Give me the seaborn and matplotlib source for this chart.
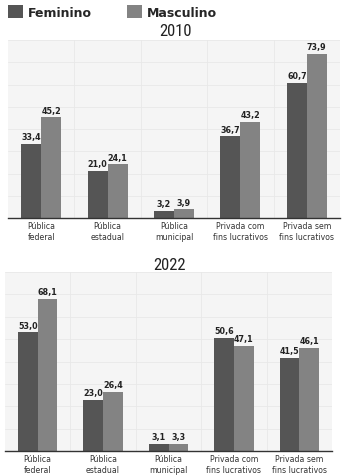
import matplotlib
matplotlib.use("Agg")
import matplotlib.pyplot as plt
import seaborn as sns
import pandas as pd
from matplotlib.patches import Patch
from matplotlib import font_manager

categories = ["Pública\nfederal", "Pública\nestadual", "Pública\nmunicipal",
              "Privada com\nfins lucrativos", "Privada sem\nfins lucrativos"]
series = ["Feminino", "Masculino"]
fem_2010 = [33.4, 21.0, 3.2, 36.7, 60.7]
mas_2010 = [45.2, 24.1, 3.9, 43.2, 73.9]
fem_2022 = [53.0, 23.0, 3.1, 50.6, 41.5]
mas_2022 = [68.1, 26.4, 3.3, 47.1, 46.1]
years = ["2010", "2022"]

colors = {"Feminino": "#555555", "Masculino": "#838383"}

def long_df(fem, mas):
    rows = []
    for c, f, m in zip(categories, fem, mas):
        rows.append((c, "Feminino", f))
        rows.append((c, "Masculino", m))
    return pd.DataFrame(rows, columns=["cat", "sexo", "valor"])

sns.set_theme(style="white")
plt.rcParams['font.family'] = ['DejaVu Sans']

names = {f.name for f in font_manager.fontManager.ttflist}
title_family = None
for cand in ["Liberation Sans Narrow", "DejaVu Sans Condensed", "Roboto Condensed", "Open Sans Condensed"]:
    if cand in names:
        title_family = cand
        break

W, H = 353, 477
fig = plt.figure(figsize=(W / 100, H / 100), dpi=100)
fig.patch.set_facecolor("white")

boxes = [(8, 340, 41, 219), (5, 332, 273, 452)]
titles_pos = [(175, 31), (169, 265)]
data = [(fem_2010, mas_2010), (fem_2022, mas_2022)]

for (l, r, t, b), (tx, ty), yr, (fem, mas) in zip(boxes, titles_pos, years, data):
    ax = fig.add_axes([l / W, 1 - b / H, (r - l) / W, (b - t) / H])
    ax.set_facecolor("#f5f5f5")
    df = long_df(fem, mas)
    sns.barplot(data=df, x="cat", y="valor", hue="sexo", hue_order=series,
                order=categories, palette=colors, width=0.6, ax=ax,
                legend=False, linewidth=0, saturation=1)
    for cont in ax.containers:
        ax.bar_label(cont, labels=[f"{v:.1f}".replace(".", ",") for v in cont.datavalues],
                     padding=2, fontsize=5.8, fontweight="bold", color="#222222")
    ax.set_ylim(0, 80)
    ax.set_xlim(-0.5, 4.5)
    ax.set_yticks(range(0, 81, 10))
    ax.set_yticklabels([])
    ax.set_xticks([0.5, 1.5, 2.5, 3.5], minor=True)
    ax.grid(axis="y", which="major", color="#e8e8e8", linewidth=0.6)
    ax.grid(axis="x", which="minor", color="#e8e8e8", linewidth=0.6)
    ax.set_axisbelow(True)
    ax.tick_params(axis="y", length=0)
    ax.tick_params(axis="x", which="both", length=0, pad=2.5, labelsize=5.6, colors="#333333")
    ax.set_xlabel("")
    ax.set_ylabel("")
    for s in ["top", "left", "right"]:
        ax.spines[s].set_visible(False)
    ax.spines["bottom"].set_color("#333333")
    ax.spines["bottom"].set_linewidth(1.0)
    if title_family:
        fig.text(tx / W, 1 - ty / H, yr, ha="center", va="center", fontsize=12,
                 family=[title_family, "DejaVu Sans"], color="#222222")
    else:
        fig.text(tx / W, 1 - ty / H, yr, ha="center", va="center", fontsize=11,
                 stretch="condensed", color="#222222")

handles = [Patch(facecolor=colors[s], edgecolor="none") for s in series]
fig.legend(handles, series, loc="upper left", bbox_to_anchor=(0.0, 1.0 + 2 / H),
           ncol=2, frameon=False, prop={"weight": "bold", "size": 9},
           handlelength=1.15, handleheight=1.15, columnspacing=2.8, handletextpad=0.45,
           borderaxespad=0.3, borderpad=0.35)

fig.savefig("out.png", dpi=100, facecolor="white")
